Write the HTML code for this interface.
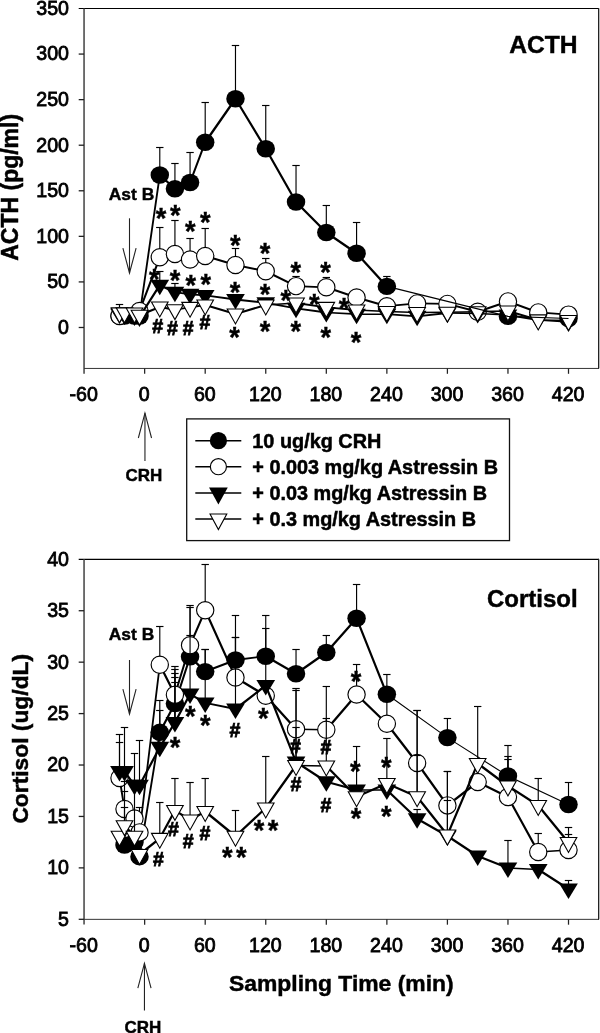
<!DOCTYPE html>
<html lang="en">
<head>
<meta charset="utf-8">
<title>ACTH and Cortisol</title>
<style>
html,body{margin:0;padding:0;background:#fff;}
body{width:600px;height:1033px;overflow:hidden;}
svg{display:block;font-family:"Liberation Sans",Arial,Helvetica,sans-serif;fill:#000;}
</style>
</head>
<body>
<svg width="600" height="1033" viewBox="0 0 600 1033">
<rect x="0" y="0" width="600" height="1033" fill="#fff"/>
<line x1="78.70" y1="8.50" x2="599.10" y2="8.50" stroke="#000" stroke-width="1.15" />
<line x1="84.05" y1="8.50" x2="84.05" y2="373.70" stroke="#484848" stroke-width="1.55" />
<line x1="598.50" y1="8.00" x2="598.50" y2="368.90" stroke="#222" stroke-width="1.0" />
<line x1="599.60" y1="8.50" x2="599.60" y2="368.40" stroke="#999" stroke-width="0.8" />
<line x1="84.15" y1="368.45" x2="599.00" y2="368.45" stroke="#2a2a2a" stroke-width="0.95" />
<text x="69.00" y="14.90" font-size="19.6" stroke="#000" stroke-width="0.8" text-anchor="end" >350</text>
<line x1="78.70" y1="54.07" x2="84.00" y2="54.07" stroke="#202020" stroke-width="1.3" />
<text x="69.00" y="60.47" font-size="19.6" stroke="#000" stroke-width="0.8" text-anchor="end" >300</text>
<line x1="78.70" y1="99.64" x2="84.00" y2="99.64" stroke="#202020" stroke-width="1.3" />
<text x="69.00" y="106.04" font-size="19.6" stroke="#000" stroke-width="0.8" text-anchor="end" >250</text>
<line x1="78.70" y1="145.21" x2="84.00" y2="145.21" stroke="#202020" stroke-width="1.3" />
<text x="69.00" y="151.61" font-size="19.6" stroke="#000" stroke-width="0.8" text-anchor="end" >200</text>
<line x1="78.70" y1="190.78" x2="84.00" y2="190.78" stroke="#202020" stroke-width="1.3" />
<text x="69.00" y="197.18" font-size="19.6" stroke="#000" stroke-width="0.8" text-anchor="end" >150</text>
<line x1="78.70" y1="236.35" x2="84.00" y2="236.35" stroke="#202020" stroke-width="1.3" />
<text x="69.00" y="242.75" font-size="19.6" stroke="#000" stroke-width="0.8" text-anchor="end" >100</text>
<line x1="78.70" y1="281.92" x2="84.00" y2="281.92" stroke="#202020" stroke-width="1.3" />
<text x="69.00" y="288.32" font-size="19.6" stroke="#000" stroke-width="0.8" text-anchor="end" >50</text>
<line x1="78.70" y1="327.49" x2="84.00" y2="327.49" stroke="#202020" stroke-width="1.3" />
<text x="69.00" y="333.89" font-size="19.6" stroke="#000" stroke-width="0.8" text-anchor="end" >0</text>
<text x="83.70" y="400.90" font-size="19.6" stroke="#000" stroke-width="0.8" text-anchor="middle" >-60</text>
<line x1="144.65" y1="368.40" x2="144.65" y2="373.80" stroke="#222" stroke-width="1.25" />
<text x="144.25" y="400.90" font-size="19.6" stroke="#000" stroke-width="0.8" text-anchor="middle" >0</text>
<line x1="205.20" y1="368.40" x2="205.20" y2="373.80" stroke="#222" stroke-width="1.25" />
<text x="204.80" y="400.90" font-size="19.6" stroke="#000" stroke-width="0.8" text-anchor="middle" >60</text>
<line x1="265.75" y1="368.40" x2="265.75" y2="373.80" stroke="#222" stroke-width="1.25" />
<text x="265.35" y="400.90" font-size="19.6" stroke="#000" stroke-width="0.8" text-anchor="middle" >120</text>
<line x1="326.31" y1="368.40" x2="326.31" y2="373.80" stroke="#222" stroke-width="1.25" />
<text x="325.91" y="400.90" font-size="19.6" stroke="#000" stroke-width="0.8" text-anchor="middle" >180</text>
<line x1="386.86" y1="368.40" x2="386.86" y2="373.80" stroke="#222" stroke-width="1.25" />
<text x="386.46" y="400.90" font-size="19.6" stroke="#000" stroke-width="0.8" text-anchor="middle" >240</text>
<line x1="447.41" y1="368.40" x2="447.41" y2="373.80" stroke="#222" stroke-width="1.25" />
<text x="447.01" y="400.90" font-size="19.6" stroke="#000" stroke-width="0.8" text-anchor="middle" >300</text>
<line x1="507.96" y1="368.40" x2="507.96" y2="373.80" stroke="#222" stroke-width="1.25" />
<text x="507.56" y="400.90" font-size="19.6" stroke="#000" stroke-width="0.8" text-anchor="middle" >360</text>
<line x1="568.51" y1="368.40" x2="568.51" y2="373.80" stroke="#222" stroke-width="1.25" />
<text x="568.11" y="400.90" font-size="19.6" stroke="#000" stroke-width="0.8" text-anchor="middle" >420</text>
<line x1="119.50" y1="316.00" x2="124.50" y2="316.00" stroke="#000" stroke-width="1.62" stroke-linecap="round"/>
<line x1="124.50" y1="316.00" x2="134.50" y2="316.00" stroke="#000" stroke-width="1.62" stroke-linecap="round"/>
<line x1="134.50" y1="316.00" x2="139.50" y2="316.00" stroke="#000" stroke-width="1.62" stroke-linecap="round"/>
<line x1="139.50" y1="316.00" x2="159.79" y2="175.00" stroke="#000" stroke-width="1.83" stroke-linecap="round"/>
<line x1="159.79" y1="175.00" x2="174.93" y2="188.75" stroke="#000" stroke-width="2.29" stroke-linecap="round"/>
<line x1="174.93" y1="188.75" x2="190.06" y2="182.50" stroke="#000" stroke-width="2.12" stroke-linecap="round"/>
<line x1="190.06" y1="182.50" x2="205.20" y2="142.25" stroke="#000" stroke-width="2.09" stroke-linecap="round"/>
<line x1="205.20" y1="142.25" x2="235.48" y2="98.75" stroke="#000" stroke-width="2.26" stroke-linecap="round"/>
<line x1="235.48" y1="98.75" x2="265.75" y2="148.75" stroke="#000" stroke-width="2.22" stroke-linecap="round"/>
<line x1="265.75" y1="148.75" x2="296.03" y2="202.00" stroke="#000" stroke-width="2.21" stroke-linecap="round"/>
<line x1="296.03" y1="202.00" x2="326.31" y2="232.50" stroke="#000" stroke-width="2.29" stroke-linecap="round"/>
<line x1="326.31" y1="232.50" x2="356.58" y2="253.25" stroke="#000" stroke-width="2.25" stroke-linecap="round"/>
<line x1="356.58" y1="253.25" x2="386.86" y2="286.40" stroke="#000" stroke-width="2.29" stroke-linecap="round"/>
<line x1="159.79" y1="175.00" x2="159.79" y2="147.50" stroke="#000" stroke-width="1.15" />
<line x1="156.09" y1="147.50" x2="163.49" y2="147.50" stroke="#000" stroke-width="1.15" />
<line x1="174.93" y1="188.75" x2="174.93" y2="163.50" stroke="#000" stroke-width="1.15" />
<line x1="171.23" y1="163.50" x2="178.63" y2="163.50" stroke="#000" stroke-width="1.15" />
<line x1="190.06" y1="182.50" x2="190.06" y2="152.50" stroke="#000" stroke-width="1.15" />
<line x1="186.36" y1="152.50" x2="193.76" y2="152.50" stroke="#000" stroke-width="1.15" />
<line x1="205.20" y1="142.25" x2="205.20" y2="102.50" stroke="#000" stroke-width="1.15" />
<line x1="201.50" y1="102.50" x2="208.90" y2="102.50" stroke="#000" stroke-width="1.15" />
<line x1="235.48" y1="98.75" x2="235.48" y2="45.50" stroke="#000" stroke-width="1.15" />
<line x1="231.78" y1="45.50" x2="239.18" y2="45.50" stroke="#000" stroke-width="1.15" />
<line x1="265.75" y1="148.75" x2="265.75" y2="105.50" stroke="#000" stroke-width="1.15" />
<line x1="262.05" y1="105.50" x2="269.45" y2="105.50" stroke="#000" stroke-width="1.15" />
<line x1="296.03" y1="202.00" x2="296.03" y2="165.50" stroke="#000" stroke-width="1.15" />
<line x1="292.33" y1="165.50" x2="299.73" y2="165.50" stroke="#000" stroke-width="1.15" />
<line x1="326.31" y1="232.50" x2="326.31" y2="205.50" stroke="#000" stroke-width="1.15" />
<line x1="322.61" y1="205.50" x2="330.01" y2="205.50" stroke="#000" stroke-width="1.15" />
<line x1="356.58" y1="253.25" x2="356.58" y2="222.50" stroke="#000" stroke-width="1.15" />
<line x1="352.88" y1="222.50" x2="360.28" y2="222.50" stroke="#000" stroke-width="1.15" />
<line x1="386.86" y1="286.40" x2="386.86" y2="276.50" stroke="#000" stroke-width="1.15" />
<line x1="383.16" y1="276.50" x2="390.56" y2="276.50" stroke="#000" stroke-width="1.15" />
<ellipse cx="119.50" cy="316.00" rx="9.25" ry="8.7" fill="#000"/>
<ellipse cx="124.50" cy="316.00" rx="9.25" ry="8.7" fill="#000"/>
<ellipse cx="134.50" cy="316.00" rx="9.25" ry="8.7" fill="#000"/>
<ellipse cx="139.50" cy="316.00" rx="9.25" ry="8.7" fill="#000"/>
<ellipse cx="159.79" cy="175.00" rx="9.25" ry="8.7" fill="#000"/>
<ellipse cx="174.93" cy="188.75" rx="9.25" ry="8.7" fill="#000"/>
<ellipse cx="190.06" cy="182.50" rx="9.25" ry="8.7" fill="#000"/>
<ellipse cx="205.20" cy="142.25" rx="9.25" ry="8.7" fill="#000"/>
<ellipse cx="235.48" cy="98.75" rx="9.25" ry="8.7" fill="#000"/>
<ellipse cx="265.75" cy="148.75" rx="9.25" ry="8.7" fill="#000"/>
<ellipse cx="296.03" cy="202.00" rx="9.25" ry="8.7" fill="#000"/>
<ellipse cx="326.31" cy="232.50" rx="9.25" ry="8.7" fill="#000"/>
<ellipse cx="356.58" cy="253.25" rx="9.25" ry="8.7" fill="#000"/>
<ellipse cx="386.86" cy="286.40" rx="9.25" ry="8.7" fill="#000"/>
<ellipse cx="507.96" cy="316.40" rx="9.25" ry="8.7" fill="#000"/>
<ellipse cx="568.51" cy="318.50" rx="9.25" ry="8.7" fill="#000"/>
<line x1="119.50" y1="316.00" x2="139.50" y2="311.00" stroke="#000" stroke-width="1.96" stroke-linecap="round"/>
<line x1="139.50" y1="311.00" x2="159.79" y2="257.30" stroke="#000" stroke-width="2.09" stroke-linecap="round"/>
<line x1="159.79" y1="257.30" x2="174.93" y2="254.00" stroke="#000" stroke-width="1.93" stroke-linecap="round"/>
<line x1="174.93" y1="254.00" x2="190.06" y2="259.50" stroke="#000" stroke-width="2.08" stroke-linecap="round"/>
<line x1="190.06" y1="259.50" x2="205.20" y2="256.00" stroke="#000" stroke-width="1.94" stroke-linecap="round"/>
<line x1="205.20" y1="256.00" x2="235.48" y2="265.00" stroke="#000" stroke-width="2.01" stroke-linecap="round"/>
<line x1="235.48" y1="265.00" x2="265.75" y2="271.25" stroke="#000" stroke-width="1.91" stroke-linecap="round"/>
<line x1="265.75" y1="271.25" x2="296.03" y2="286.10" stroke="#000" stroke-width="2.17" stroke-linecap="round"/>
<line x1="296.03" y1="286.10" x2="326.31" y2="287.30" stroke="#000" stroke-width="1.68" stroke-linecap="round"/>
<line x1="326.31" y1="287.30" x2="356.58" y2="297.50" stroke="#000" stroke-width="2.05" stroke-linecap="round"/>
<line x1="356.58" y1="297.50" x2="386.86" y2="306.20" stroke="#000" stroke-width="2.00" stroke-linecap="round"/>
<line x1="386.86" y1="306.20" x2="417.13" y2="303.40" stroke="#000" stroke-width="1.76" stroke-linecap="round"/>
<line x1="417.13" y1="303.40" x2="447.41" y2="303.90" stroke="#000" stroke-width="1.65" stroke-linecap="round"/>
<line x1="447.41" y1="303.90" x2="477.69" y2="311.70" stroke="#000" stroke-width="1.97" stroke-linecap="round"/>
<line x1="477.69" y1="311.70" x2="507.96" y2="301.40" stroke="#000" stroke-width="2.06" stroke-linecap="round"/>
<line x1="507.96" y1="301.40" x2="538.24" y2="312.40" stroke="#000" stroke-width="2.08" stroke-linecap="round"/>
<line x1="538.24" y1="312.40" x2="568.51" y2="314.60" stroke="#000" stroke-width="1.73" stroke-linecap="round"/>
<line x1="159.79" y1="257.30" x2="159.79" y2="227.50" stroke="#000" stroke-width="1.15" />
<line x1="156.09" y1="227.50" x2="163.49" y2="227.50" stroke="#000" stroke-width="1.15" />
<line x1="174.93" y1="254.00" x2="174.93" y2="220.50" stroke="#000" stroke-width="1.15" />
<line x1="171.23" y1="220.50" x2="178.63" y2="220.50" stroke="#000" stroke-width="1.15" />
<line x1="190.06" y1="259.50" x2="190.06" y2="238.50" stroke="#000" stroke-width="1.15" />
<line x1="186.36" y1="238.50" x2="193.76" y2="238.50" stroke="#000" stroke-width="1.15" />
<line x1="205.20" y1="256.00" x2="205.20" y2="228.50" stroke="#000" stroke-width="1.15" />
<line x1="201.50" y1="228.50" x2="208.90" y2="228.50" stroke="#000" stroke-width="1.15" />
<line x1="235.48" y1="265.00" x2="235.48" y2="248.50" stroke="#000" stroke-width="1.15" />
<line x1="231.78" y1="248.50" x2="239.18" y2="248.50" stroke="#000" stroke-width="1.15" />
<line x1="265.75" y1="271.25" x2="265.75" y2="258.50" stroke="#000" stroke-width="1.15" />
<line x1="262.05" y1="258.50" x2="269.45" y2="258.50" stroke="#000" stroke-width="1.15" />
<line x1="296.03" y1="286.10" x2="296.03" y2="276.50" stroke="#000" stroke-width="1.15" />
<line x1="292.33" y1="276.50" x2="299.73" y2="276.50" stroke="#000" stroke-width="1.15" />
<line x1="326.31" y1="287.30" x2="326.31" y2="277.50" stroke="#000" stroke-width="1.15" />
<line x1="322.61" y1="277.50" x2="330.01" y2="277.50" stroke="#000" stroke-width="1.15" />
<circle cx="119.50" cy="316.00" r="8.65" fill="#fff" stroke="#000" stroke-width="1.15"/>
<circle cx="139.50" cy="311.00" r="8.65" fill="#fff" stroke="#000" stroke-width="1.15"/>
<circle cx="159.79" cy="257.30" r="8.65" fill="#fff" stroke="#000" stroke-width="1.15"/>
<circle cx="174.93" cy="254.00" r="8.65" fill="#fff" stroke="#000" stroke-width="1.15"/>
<circle cx="190.06" cy="259.50" r="8.65" fill="#fff" stroke="#000" stroke-width="1.15"/>
<circle cx="205.20" cy="256.00" r="8.65" fill="#fff" stroke="#000" stroke-width="1.15"/>
<circle cx="235.48" cy="265.00" r="8.65" fill="#fff" stroke="#000" stroke-width="1.15"/>
<circle cx="265.75" cy="271.25" r="8.65" fill="#fff" stroke="#000" stroke-width="1.15"/>
<circle cx="296.03" cy="286.10" r="8.65" fill="#fff" stroke="#000" stroke-width="1.15"/>
<circle cx="326.31" cy="287.30" r="8.65" fill="#fff" stroke="#000" stroke-width="1.15"/>
<circle cx="356.58" cy="297.50" r="8.65" fill="#fff" stroke="#000" stroke-width="1.15"/>
<circle cx="386.86" cy="306.20" r="8.65" fill="#fff" stroke="#000" stroke-width="1.15"/>
<circle cx="417.13" cy="303.40" r="8.65" fill="#fff" stroke="#000" stroke-width="1.15"/>
<circle cx="447.41" cy="303.90" r="8.65" fill="#fff" stroke="#000" stroke-width="1.15"/>
<circle cx="477.69" cy="311.70" r="8.65" fill="#fff" stroke="#000" stroke-width="1.15"/>
<circle cx="507.96" cy="301.40" r="8.65" fill="#fff" stroke="#000" stroke-width="1.15"/>
<circle cx="538.24" cy="312.40" r="8.65" fill="#fff" stroke="#000" stroke-width="1.15"/>
<circle cx="568.51" cy="314.60" r="8.65" fill="#fff" stroke="#000" stroke-width="1.15"/>
<line x1="119.50" y1="314.00" x2="124.50" y2="315.00" stroke="#000" stroke-width="1.91" stroke-linecap="round"/>
<line x1="124.50" y1="315.00" x2="134.50" y2="316.00" stroke="#000" stroke-width="1.77" stroke-linecap="round"/>
<line x1="134.50" y1="316.00" x2="139.50" y2="317.00" stroke="#000" stroke-width="1.91" stroke-linecap="round"/>
<line x1="139.50" y1="317.00" x2="159.79" y2="285.20" stroke="#000" stroke-width="2.24" stroke-linecap="round"/>
<line x1="159.79" y1="285.20" x2="174.93" y2="292.20" stroke="#000" stroke-width="2.15" stroke-linecap="round"/>
<line x1="174.93" y1="292.20" x2="190.06" y2="294.30" stroke="#000" stroke-width="1.83" stroke-linecap="round"/>
<line x1="190.06" y1="294.30" x2="205.20" y2="295.40" stroke="#000" stroke-width="1.73" stroke-linecap="round"/>
<line x1="205.20" y1="295.40" x2="235.48" y2="299.50" stroke="#000" stroke-width="1.82" stroke-linecap="round"/>
<line x1="235.48" y1="299.50" x2="265.75" y2="302.80" stroke="#000" stroke-width="1.79" stroke-linecap="round"/>
<line x1="265.75" y1="302.80" x2="296.03" y2="308.30" stroke="#000" stroke-width="1.88" stroke-linecap="round"/>
<line x1="296.03" y1="308.30" x2="326.31" y2="312.50" stroke="#000" stroke-width="1.83" stroke-linecap="round"/>
<line x1="326.31" y1="312.50" x2="356.58" y2="314.20" stroke="#000" stroke-width="1.71" stroke-linecap="round"/>
<line x1="356.58" y1="314.20" x2="386.86" y2="314.20" stroke="#000" stroke-width="1.62" stroke-linecap="round"/>
<line x1="386.86" y1="314.20" x2="417.13" y2="316.30" stroke="#000" stroke-width="1.73" stroke-linecap="round"/>
<line x1="417.13" y1="316.30" x2="447.41" y2="313.00" stroke="#000" stroke-width="1.79" stroke-linecap="round"/>
<line x1="447.41" y1="313.00" x2="477.69" y2="313.50" stroke="#000" stroke-width="1.65" stroke-linecap="round"/>
<line x1="477.69" y1="313.50" x2="507.96" y2="315.00" stroke="#000" stroke-width="1.70" stroke-linecap="round"/>
<line x1="507.96" y1="315.00" x2="538.24" y2="320.00" stroke="#000" stroke-width="1.86" stroke-linecap="round"/>
<line x1="538.24" y1="320.00" x2="568.51" y2="322.00" stroke="#000" stroke-width="1.72" stroke-linecap="round"/>
<line x1="159.79" y1="285.20" x2="159.79" y2="271.50" stroke="#000" stroke-width="1.15" />
<line x1="156.09" y1="271.50" x2="163.49" y2="271.50" stroke="#000" stroke-width="1.15" />
<line x1="174.93" y1="292.20" x2="174.93" y2="283.50" stroke="#000" stroke-width="1.15" />
<line x1="171.23" y1="283.50" x2="178.63" y2="283.50" stroke="#000" stroke-width="1.15" />
<polygon points="110.15,308.50 128.85,308.50 119.50,324.00" fill="#000"/>
<polygon points="115.15,309.50 133.85,309.50 124.50,325.00" fill="#000"/>
<polygon points="125.15,310.50 143.85,310.50 134.50,326.00" fill="#000"/>
<polygon points="130.15,311.50 148.85,311.50 139.50,327.00" fill="#000"/>
<polygon points="150.44,279.70 169.14,279.70 159.79,295.20" fill="#000"/>
<polygon points="165.58,286.70 184.28,286.70 174.93,302.20" fill="#000"/>
<polygon points="180.71,288.80 199.41,288.80 190.06,304.30" fill="#000"/>
<polygon points="195.85,289.90 214.55,289.90 205.20,305.40" fill="#000"/>
<polygon points="226.13,294.00 244.83,294.00 235.48,309.50" fill="#000"/>
<polygon points="256.40,297.30 275.10,297.30 265.75,312.80" fill="#000"/>
<polygon points="286.68,302.80 305.38,302.80 296.03,318.30" fill="#000"/>
<polygon points="316.96,307.00 335.66,307.00 326.31,322.50" fill="#000"/>
<polygon points="347.23,308.70 365.93,308.70 356.58,324.20" fill="#000"/>
<polygon points="377.51,308.70 396.21,308.70 386.86,324.20" fill="#000"/>
<polygon points="407.78,310.80 426.48,310.80 417.13,326.30" fill="#000"/>
<polygon points="438.06,307.50 456.76,307.50 447.41,323.00" fill="#000"/>
<polygon points="468.34,308.00 487.04,308.00 477.69,323.50" fill="#000"/>
<polygon points="498.61,309.50 517.31,309.50 507.96,325.00" fill="#000"/>
<polygon points="528.89,314.50 547.59,314.50 538.24,330.00" fill="#000"/>
<polygon points="559.16,316.50 577.86,316.50 568.51,332.00" fill="#000"/>
<line x1="119.50" y1="312.80" x2="124.50" y2="312.80" stroke="#000" stroke-width="1.62" stroke-linecap="round"/>
<line x1="124.50" y1="312.80" x2="134.50" y2="313.00" stroke="#000" stroke-width="1.65" stroke-linecap="round"/>
<line x1="134.50" y1="313.00" x2="139.50" y2="315.20" stroke="#000" stroke-width="2.14" stroke-linecap="round"/>
<line x1="139.50" y1="315.20" x2="159.79" y2="307.00" stroke="#000" stroke-width="2.11" stroke-linecap="round"/>
<line x1="159.79" y1="307.00" x2="174.93" y2="309.70" stroke="#000" stroke-width="1.88" stroke-linecap="round"/>
<line x1="174.93" y1="309.70" x2="190.06" y2="307.30" stroke="#000" stroke-width="1.85" stroke-linecap="round"/>
<line x1="190.06" y1="307.30" x2="205.20" y2="305.00" stroke="#000" stroke-width="1.84" stroke-linecap="round"/>
<line x1="205.20" y1="305.00" x2="235.48" y2="314.00" stroke="#000" stroke-width="2.01" stroke-linecap="round"/>
<line x1="235.48" y1="314.00" x2="265.75" y2="305.00" stroke="#000" stroke-width="2.01" stroke-linecap="round"/>
<line x1="265.75" y1="305.00" x2="296.03" y2="303.00" stroke="#000" stroke-width="1.72" stroke-linecap="round"/>
<line x1="296.03" y1="303.00" x2="326.31" y2="307.30" stroke="#000" stroke-width="1.83" stroke-linecap="round"/>
<line x1="326.31" y1="307.30" x2="356.58" y2="310.00" stroke="#000" stroke-width="1.76" stroke-linecap="round"/>
<line x1="356.58" y1="310.00" x2="386.86" y2="311.50" stroke="#000" stroke-width="1.70" stroke-linecap="round"/>
<line x1="386.86" y1="311.50" x2="417.13" y2="312.50" stroke="#000" stroke-width="1.67" stroke-linecap="round"/>
<line x1="417.13" y1="312.50" x2="447.41" y2="312.20" stroke="#000" stroke-width="1.64" stroke-linecap="round"/>
<line x1="447.41" y1="312.20" x2="477.69" y2="311.70" stroke="#000" stroke-width="1.65" stroke-linecap="round"/>
<line x1="477.69" y1="311.70" x2="507.96" y2="311.00" stroke="#000" stroke-width="1.66" stroke-linecap="round"/>
<line x1="507.96" y1="311.00" x2="538.24" y2="320.00" stroke="#000" stroke-width="2.01" stroke-linecap="round"/>
<line x1="538.24" y1="320.00" x2="568.51" y2="320.50" stroke="#000" stroke-width="1.65" stroke-linecap="round"/>
<line x1="119.50" y1="312.80" x2="119.50" y2="304.50" stroke="#000" stroke-width="1.15" />
<line x1="115.80" y1="304.50" x2="123.20" y2="304.50" stroke="#000" stroke-width="1.15" />
<polygon points="111.20,307.85 127.80,307.85 119.50,322.70" fill="#fff" stroke="#000" stroke-width="1.1"/>
<polygon points="116.20,307.85 132.80,307.85 124.50,322.70" fill="#fff" stroke="#000" stroke-width="1.1"/>
<polygon points="126.20,308.05 142.80,308.05 134.50,322.90" fill="#fff" stroke="#000" stroke-width="1.1"/>
<polygon points="131.20,310.25 147.80,310.25 139.50,325.10" fill="#fff" stroke="#000" stroke-width="1.1"/>
<polygon points="151.49,302.05 168.09,302.05 159.79,316.90" fill="#fff" stroke="#000" stroke-width="1.1"/>
<polygon points="166.63,304.75 183.23,304.75 174.93,319.60" fill="#fff" stroke="#000" stroke-width="1.1"/>
<polygon points="181.76,302.35 198.36,302.35 190.06,317.20" fill="#fff" stroke="#000" stroke-width="1.1"/>
<polygon points="196.90,300.05 213.50,300.05 205.20,314.90" fill="#fff" stroke="#000" stroke-width="1.1"/>
<polygon points="227.18,309.05 243.78,309.05 235.48,323.90" fill="#fff" stroke="#000" stroke-width="1.1"/>
<polygon points="257.45,300.05 274.05,300.05 265.75,314.90" fill="#fff" stroke="#000" stroke-width="1.1"/>
<polygon points="287.73,298.05 304.33,298.05 296.03,312.90" fill="#fff" stroke="#000" stroke-width="1.1"/>
<polygon points="318.01,302.35 334.61,302.35 326.31,317.20" fill="#fff" stroke="#000" stroke-width="1.1"/>
<polygon points="348.28,305.05 364.88,305.05 356.58,319.90" fill="#fff" stroke="#000" stroke-width="1.1"/>
<polygon points="378.56,306.55 395.16,306.55 386.86,321.40" fill="#fff" stroke="#000" stroke-width="1.1"/>
<polygon points="408.83,307.55 425.43,307.55 417.13,322.40" fill="#fff" stroke="#000" stroke-width="1.1"/>
<polygon points="439.11,307.25 455.71,307.25 447.41,322.10" fill="#fff" stroke="#000" stroke-width="1.1"/>
<polygon points="469.39,306.75 485.99,306.75 477.69,321.60" fill="#fff" stroke="#000" stroke-width="1.1"/>
<polygon points="499.66,306.05 516.26,306.05 507.96,320.90" fill="#fff" stroke="#000" stroke-width="1.1"/>
<polygon points="529.94,315.05 546.54,315.05 538.24,329.90" fill="#fff" stroke="#000" stroke-width="1.1"/>
<polygon points="560.21,315.55 576.81,315.55 568.51,330.40" fill="#fff" stroke="#000" stroke-width="1.1"/>
<polyline points="386.86,286.40 507.96,316.40 568.51,318.50" fill="none" stroke="#000" stroke-width="1.1" stroke-linejoin="round"/>
<text transform="translate(161.00,228.45) scale(0.95,1)" font-size="28.6" font-weight="bold" stroke="#000" stroke-width="0.4" text-anchor="middle">*</text>
<text transform="translate(175.40,224.65) scale(0.95,1)" font-size="28.6" font-weight="bold" stroke="#000" stroke-width="0.4" text-anchor="middle">*</text>
<text transform="translate(190.30,241.35) scale(0.95,1)" font-size="28.6" font-weight="bold" stroke="#000" stroke-width="0.4" text-anchor="middle">*</text>
<text transform="translate(205.40,232.05) scale(0.95,1)" font-size="28.6" font-weight="bold" stroke="#000" stroke-width="0.4" text-anchor="middle">*</text>
<text transform="translate(235.30,255.10) scale(0.95,1)" font-size="28.6" font-weight="bold" stroke="#000" stroke-width="0.4" text-anchor="middle">*</text>
<text transform="translate(265.00,263.05) scale(0.95,1)" font-size="28.6" font-weight="bold" stroke="#000" stroke-width="0.4" text-anchor="middle">*</text>
<text transform="translate(295.80,282.35) scale(0.95,1)" font-size="28.6" font-weight="bold" stroke="#000" stroke-width="0.4" text-anchor="middle">*</text>
<text transform="translate(325.50,281.85) scale(0.95,1)" font-size="28.6" font-weight="bold" stroke="#000" stroke-width="0.4" text-anchor="middle">*</text>
<text transform="translate(154.20,288.55) scale(0.95,1)" font-size="28.6" font-weight="bold" stroke="#000" stroke-width="0.4" text-anchor="middle">*</text>
<text transform="translate(175.00,289.85) scale(0.95,1)" font-size="28.6" font-weight="bold" stroke="#000" stroke-width="0.4" text-anchor="middle">*</text>
<text transform="translate(190.80,295.15) scale(0.95,1)" font-size="28.6" font-weight="bold" stroke="#000" stroke-width="0.4" text-anchor="middle">*</text>
<text transform="translate(205.80,294.35) scale(0.95,1)" font-size="28.6" font-weight="bold" stroke="#000" stroke-width="0.4" text-anchor="middle">*</text>
<text transform="translate(235.00,301.85) scale(0.95,1)" font-size="28.6" font-weight="bold" stroke="#000" stroke-width="0.4" text-anchor="middle">*</text>
<text transform="translate(265.00,303.85) scale(0.95,1)" font-size="28.6" font-weight="bold" stroke="#000" stroke-width="0.4" text-anchor="middle">*</text>
<text transform="translate(285.80,310.15) scale(0.95,1)" font-size="28.6" font-weight="bold" stroke="#000" stroke-width="0.4" text-anchor="middle">*</text>
<text transform="translate(314.20,313.55) scale(0.95,1)" font-size="28.6" font-weight="bold" stroke="#000" stroke-width="0.4" text-anchor="middle">*</text>
<text transform="translate(344.00,318.35) scale(0.95,1)" font-size="28.6" font-weight="bold" stroke="#000" stroke-width="0.4" text-anchor="middle">*</text>
<text x="157.80" y="333.00" font-size="19.6" font-weight="bold" stroke="#000" stroke-width="0.75" text-anchor="middle">#</text>
<text x="172.50" y="335.00" font-size="19.6" font-weight="bold" stroke="#000" stroke-width="0.75" text-anchor="middle">#</text>
<text x="188.30" y="334.70" font-size="19.6" font-weight="bold" stroke="#000" stroke-width="0.75" text-anchor="middle">#</text>
<text x="205.00" y="329.20" font-size="19.6" font-weight="bold" stroke="#000" stroke-width="0.75" text-anchor="middle">#</text>
<text transform="translate(234.50,346.85) scale(0.95,1)" font-size="28.6" font-weight="bold" stroke="#000" stroke-width="0.4" text-anchor="middle">*</text>
<text transform="translate(265.00,341.05) scale(0.95,1)" font-size="28.6" font-weight="bold" stroke="#000" stroke-width="0.4" text-anchor="middle">*</text>
<text transform="translate(295.80,341.35) scale(0.95,1)" font-size="28.6" font-weight="bold" stroke="#000" stroke-width="0.4" text-anchor="middle">*</text>
<text transform="translate(325.80,346.85) scale(0.95,1)" font-size="28.6" font-weight="bold" stroke="#000" stroke-width="0.4" text-anchor="middle">*</text>
<text transform="translate(356.00,351.85) scale(0.95,1)" font-size="28.6" font-weight="bold" stroke="#000" stroke-width="0.4" text-anchor="middle">*</text>
<text x="509.20" y="53.00" font-size="24.6" font-weight="bold" stroke="#000" stroke-width="0.45" text-anchor="start" >ACTH</text>
<text x="108.80" y="199.70" font-size="17.4" font-weight="bold" stroke="#000" stroke-width="0.45" text-anchor="start" >Ast B</text>
<line x1="129.50" y1="273.00" x2="129.50" y2="218.30" stroke="#222" stroke-width="1.1" />
<polyline points="122.90,248.20 129.50,273.00 136.10,248.20" fill="none" stroke="#222" stroke-width="1.1"/>
<text transform="translate(17.8,260.8) rotate(-90)" font-size="23" font-weight="bold" stroke="#000" stroke-width="0.5">ACTH (pg/ml)</text>
<line x1="144.95" y1="413.20" x2="144.95" y2="461.00" stroke="#222" stroke-width="1.1" />
<polyline points="138.35,438.00 144.95,413.20 151.55,438.00" fill="none" stroke="#222" stroke-width="1.1"/>
<text x="143.90" y="481.40" font-size="17.0" font-weight="bold" stroke="#000" stroke-width="0.45" text-anchor="middle" >CRH</text>
<rect x="186.7" y="418.9" width="322.8" height="121.7" fill="#fff" stroke="#111" stroke-width="1.3"/>
<line x1="195.30" y1="440.70" x2="241.30" y2="440.70" stroke="#000" stroke-width="1.6" />
<circle cx="218.40" cy="440.70" r="8.6" fill="#000"/>
<text transform="translate(252.3,447.60) scale(1.0,1)" font-size="19.85" font-weight="bold" stroke="#000" stroke-width="0.5">10 ug/kg CRH</text>
<line x1="195.30" y1="466.70" x2="241.30" y2="466.70" stroke="#000" stroke-width="1.6" />
<circle cx="218.40" cy="466.70" r="8.05" fill="#fff" stroke="#000" stroke-width="1.15"/>
<text transform="translate(252.3,473.60) scale(1.0,1)" font-size="19.85" font-weight="bold" stroke="#000" stroke-width="0.5">+ 0.003 mg/kg Astressin B</text>
<line x1="195.30" y1="493.00" x2="241.30" y2="493.00" stroke="#000" stroke-width="1.6" />
<polygon points="209.03,487.40 227.78,487.40 218.40,504.60" fill="#000"/>
<text transform="translate(252.3,499.90) scale(1.0,1)" font-size="19.85" font-weight="bold" stroke="#000" stroke-width="0.5">+ 0.03 mg/kg Astressin B</text>
<line x1="195.30" y1="519.00" x2="241.30" y2="519.00" stroke="#000" stroke-width="1.6" />
<polygon points="210.03,513.95 226.78,513.95 218.40,529.50" fill="#fff" stroke="#000" stroke-width="1.1"/>
<text transform="translate(252.3,525.90) scale(1.0,1)" font-size="19.85" font-weight="bold" stroke="#000" stroke-width="0.5">+ 0.3 mg/kg Astressin B</text>
<line x1="78.70" y1="559.35" x2="599.10" y2="559.35" stroke="#000" stroke-width="1.3" />
<line x1="84.05" y1="559.35" x2="84.05" y2="924.60" stroke="#484848" stroke-width="1.55" />
<line x1="598.50" y1="558.85" x2="598.50" y2="919.80" stroke="#222" stroke-width="1.0" />
<line x1="599.60" y1="559.35" x2="599.60" y2="919.30" stroke="#999" stroke-width="0.8" />
<line x1="84.15" y1="919.35" x2="599.00" y2="919.35" stroke="#2a2a2a" stroke-width="0.95" />
<text x="69.00" y="565.70" font-size="19.6" stroke="#000" stroke-width="0.8" text-anchor="end" >40</text>
<line x1="78.70" y1="610.73" x2="84.00" y2="610.73" stroke="#202020" stroke-width="1.3" />
<text x="69.00" y="617.13" font-size="19.6" stroke="#000" stroke-width="0.8" text-anchor="end" >35</text>
<line x1="78.70" y1="662.16" x2="84.00" y2="662.16" stroke="#202020" stroke-width="1.3" />
<text x="69.00" y="668.56" font-size="19.6" stroke="#000" stroke-width="0.8" text-anchor="end" >30</text>
<line x1="78.70" y1="713.59" x2="84.00" y2="713.59" stroke="#202020" stroke-width="1.3" />
<text x="69.00" y="719.99" font-size="19.6" stroke="#000" stroke-width="0.8" text-anchor="end" >25</text>
<line x1="78.70" y1="765.02" x2="84.00" y2="765.02" stroke="#202020" stroke-width="1.3" />
<text x="69.00" y="771.42" font-size="19.6" stroke="#000" stroke-width="0.8" text-anchor="end" >20</text>
<line x1="78.70" y1="816.45" x2="84.00" y2="816.45" stroke="#202020" stroke-width="1.3" />
<text x="69.00" y="822.85" font-size="19.6" stroke="#000" stroke-width="0.8" text-anchor="end" >15</text>
<line x1="78.70" y1="867.88" x2="84.00" y2="867.88" stroke="#202020" stroke-width="1.3" />
<text x="69.00" y="874.28" font-size="19.6" stroke="#000" stroke-width="0.8" text-anchor="end" >10</text>
<line x1="78.70" y1="919.31" x2="84.00" y2="919.31" stroke="#202020" stroke-width="1.3" />
<text x="69.00" y="925.71" font-size="19.6" stroke="#000" stroke-width="0.8" text-anchor="end" >5</text>
<text x="83.70" y="952.00" font-size="19.6" stroke="#000" stroke-width="0.8" text-anchor="middle" >-60</text>
<line x1="144.65" y1="919.30" x2="144.65" y2="924.70" stroke="#222" stroke-width="1.25" />
<text x="144.25" y="952.00" font-size="19.6" stroke="#000" stroke-width="0.8" text-anchor="middle" >0</text>
<line x1="205.20" y1="919.30" x2="205.20" y2="924.70" stroke="#222" stroke-width="1.25" />
<text x="204.80" y="952.00" font-size="19.6" stroke="#000" stroke-width="0.8" text-anchor="middle" >60</text>
<line x1="265.75" y1="919.30" x2="265.75" y2="924.70" stroke="#222" stroke-width="1.25" />
<text x="265.35" y="952.00" font-size="19.6" stroke="#000" stroke-width="0.8" text-anchor="middle" >120</text>
<line x1="326.31" y1="919.30" x2="326.31" y2="924.70" stroke="#222" stroke-width="1.25" />
<text x="325.91" y="952.00" font-size="19.6" stroke="#000" stroke-width="0.8" text-anchor="middle" >180</text>
<line x1="386.86" y1="919.30" x2="386.86" y2="924.70" stroke="#222" stroke-width="1.25" />
<text x="386.46" y="952.00" font-size="19.6" stroke="#000" stroke-width="0.8" text-anchor="middle" >240</text>
<line x1="447.41" y1="919.30" x2="447.41" y2="924.70" stroke="#222" stroke-width="1.25" />
<text x="447.01" y="952.00" font-size="19.6" stroke="#000" stroke-width="0.8" text-anchor="middle" >300</text>
<line x1="507.96" y1="919.30" x2="507.96" y2="924.70" stroke="#222" stroke-width="1.25" />
<text x="507.56" y="952.00" font-size="19.6" stroke="#000" stroke-width="0.8" text-anchor="middle" >360</text>
<line x1="568.51" y1="919.30" x2="568.51" y2="924.70" stroke="#222" stroke-width="1.25" />
<text x="568.11" y="952.00" font-size="19.6" stroke="#000" stroke-width="0.8" text-anchor="middle" >420</text>
<line x1="124.50" y1="845.00" x2="134.50" y2="842.00" stroke="#000" stroke-width="2.02" stroke-linecap="round"/>
<line x1="134.50" y1="842.00" x2="139.50" y2="856.70" stroke="#000" stroke-width="2.06" stroke-linecap="round"/>
<line x1="139.50" y1="856.70" x2="159.79" y2="732.30" stroke="#000" stroke-width="1.86" stroke-linecap="round"/>
<line x1="159.79" y1="732.30" x2="174.93" y2="703.60" stroke="#000" stroke-width="2.19" stroke-linecap="round"/>
<line x1="174.93" y1="703.60" x2="190.06" y2="656.80" stroke="#000" stroke-width="2.04" stroke-linecap="round"/>
<line x1="190.06" y1="656.80" x2="205.20" y2="671.60" stroke="#000" stroke-width="2.29" stroke-linecap="round"/>
<line x1="205.20" y1="671.60" x2="235.48" y2="660.00" stroke="#000" stroke-width="2.09" stroke-linecap="round"/>
<line x1="235.48" y1="660.00" x2="265.75" y2="656.25" stroke="#000" stroke-width="1.81" stroke-linecap="round"/>
<line x1="265.75" y1="656.25" x2="296.03" y2="673.75" stroke="#000" stroke-width="2.21" stroke-linecap="round"/>
<line x1="296.03" y1="673.75" x2="326.31" y2="652.50" stroke="#000" stroke-width="2.26" stroke-linecap="round"/>
<line x1="326.31" y1="652.50" x2="356.58" y2="618.25" stroke="#000" stroke-width="2.29" stroke-linecap="round"/>
<line x1="356.58" y1="618.25" x2="386.86" y2="694.25" stroke="#000" stroke-width="2.10" stroke-linecap="round"/>
<line x1="159.79" y1="732.30" x2="159.79" y2="700.50" stroke="#000" stroke-width="1.15" />
<line x1="156.09" y1="700.50" x2="163.49" y2="700.50" stroke="#000" stroke-width="1.15" />
<line x1="174.93" y1="703.60" x2="174.93" y2="673.50" stroke="#000" stroke-width="1.15" />
<line x1="171.23" y1="673.50" x2="178.63" y2="673.50" stroke="#000" stroke-width="1.15" />
<line x1="190.06" y1="656.80" x2="190.06" y2="635.50" stroke="#000" stroke-width="1.15" />
<line x1="186.36" y1="635.50" x2="193.76" y2="635.50" stroke="#000" stroke-width="1.15" />
<line x1="205.20" y1="671.60" x2="205.20" y2="649.50" stroke="#000" stroke-width="1.15" />
<line x1="201.50" y1="649.50" x2="208.90" y2="649.50" stroke="#000" stroke-width="1.15" />
<line x1="235.48" y1="660.00" x2="235.48" y2="615.50" stroke="#000" stroke-width="1.15" />
<line x1="231.78" y1="615.50" x2="239.18" y2="615.50" stroke="#000" stroke-width="1.15" />
<line x1="265.75" y1="656.25" x2="265.75" y2="615.50" stroke="#000" stroke-width="1.15" />
<line x1="262.05" y1="615.50" x2="269.45" y2="615.50" stroke="#000" stroke-width="1.15" />
<line x1="296.03" y1="673.75" x2="296.03" y2="649.50" stroke="#000" stroke-width="1.15" />
<line x1="292.33" y1="649.50" x2="299.73" y2="649.50" stroke="#000" stroke-width="1.15" />
<line x1="326.31" y1="652.50" x2="326.31" y2="635.50" stroke="#000" stroke-width="1.15" />
<line x1="322.61" y1="635.50" x2="330.01" y2="635.50" stroke="#000" stroke-width="1.15" />
<line x1="356.58" y1="618.25" x2="356.58" y2="584.50" stroke="#000" stroke-width="1.15" />
<line x1="352.88" y1="584.50" x2="360.28" y2="584.50" stroke="#000" stroke-width="1.15" />
<line x1="386.86" y1="694.25" x2="386.86" y2="674.50" stroke="#000" stroke-width="1.15" />
<line x1="383.16" y1="674.50" x2="390.56" y2="674.50" stroke="#000" stroke-width="1.15" />
<line x1="447.41" y1="737.60" x2="447.41" y2="718.50" stroke="#000" stroke-width="1.15" />
<line x1="443.71" y1="718.50" x2="451.11" y2="718.50" stroke="#000" stroke-width="1.15" />
<line x1="507.96" y1="776.00" x2="507.96" y2="745.50" stroke="#000" stroke-width="1.15" />
<line x1="504.26" y1="745.50" x2="511.66" y2="745.50" stroke="#000" stroke-width="1.15" />
<line x1="568.51" y1="804.50" x2="568.51" y2="782.50" stroke="#000" stroke-width="1.15" />
<line x1="564.81" y1="782.50" x2="572.21" y2="782.50" stroke="#000" stroke-width="1.15" />
<ellipse cx="124.50" cy="845.00" rx="9.25" ry="8.7" fill="#000"/>
<ellipse cx="134.50" cy="842.00" rx="9.25" ry="8.7" fill="#000"/>
<ellipse cx="139.50" cy="856.70" rx="9.25" ry="8.7" fill="#000"/>
<ellipse cx="159.79" cy="732.30" rx="9.25" ry="8.7" fill="#000"/>
<ellipse cx="174.93" cy="703.60" rx="9.25" ry="8.7" fill="#000"/>
<ellipse cx="190.06" cy="656.80" rx="9.25" ry="8.7" fill="#000"/>
<ellipse cx="205.20" cy="671.60" rx="9.25" ry="8.7" fill="#000"/>
<ellipse cx="235.48" cy="660.00" rx="9.25" ry="8.7" fill="#000"/>
<ellipse cx="265.75" cy="656.25" rx="9.25" ry="8.7" fill="#000"/>
<ellipse cx="296.03" cy="673.75" rx="9.25" ry="8.7" fill="#000"/>
<ellipse cx="326.31" cy="652.50" rx="9.25" ry="8.7" fill="#000"/>
<ellipse cx="356.58" cy="618.25" rx="9.25" ry="8.7" fill="#000"/>
<ellipse cx="386.86" cy="694.25" rx="9.25" ry="8.7" fill="#000"/>
<ellipse cx="447.41" cy="737.60" rx="9.25" ry="8.7" fill="#000"/>
<ellipse cx="507.96" cy="776.00" rx="9.25" ry="8.7" fill="#000"/>
<ellipse cx="568.51" cy="804.50" rx="9.25" ry="8.7" fill="#000"/>
<polyline points="386.86,694.25 447.41,737.60 507.96,776.00 568.51,804.50" fill="none" stroke="#000" stroke-width="1.1" stroke-linejoin="round"/>
<line x1="119.50" y1="778.00" x2="124.50" y2="809.00" stroke="#000" stroke-width="1.86" stroke-linecap="round"/>
<line x1="124.50" y1="809.00" x2="134.50" y2="818.50" stroke="#000" stroke-width="2.29" stroke-linecap="round"/>
<line x1="134.50" y1="818.50" x2="139.50" y2="832.40" stroke="#000" stroke-width="2.07" stroke-linecap="round"/>
<line x1="139.50" y1="832.40" x2="159.79" y2="664.80" stroke="#000" stroke-width="1.80" stroke-linecap="round"/>
<line x1="159.79" y1="664.80" x2="174.93" y2="694.70" stroke="#000" stroke-width="2.18" stroke-linecap="round"/>
<line x1="174.93" y1="694.70" x2="190.06" y2="645.20" stroke="#000" stroke-width="2.02" stroke-linecap="round"/>
<line x1="190.06" y1="645.20" x2="205.20" y2="610.30" stroke="#000" stroke-width="2.13" stroke-linecap="round"/>
<line x1="205.20" y1="610.30" x2="235.48" y2="677.50" stroke="#000" stroke-width="2.14" stroke-linecap="round"/>
<line x1="235.48" y1="677.50" x2="265.75" y2="695.75" stroke="#000" stroke-width="2.22" stroke-linecap="round"/>
<line x1="265.75" y1="695.75" x2="296.03" y2="729.30" stroke="#000" stroke-width="2.29" stroke-linecap="round"/>
<line x1="296.03" y1="729.30" x2="326.31" y2="729.80" stroke="#000" stroke-width="1.65" stroke-linecap="round"/>
<line x1="326.31" y1="729.80" x2="356.58" y2="694.50" stroke="#000" stroke-width="2.28" stroke-linecap="round"/>
<line x1="356.58" y1="694.50" x2="386.86" y2="723.75" stroke="#000" stroke-width="2.29" stroke-linecap="round"/>
<line x1="386.86" y1="723.75" x2="417.13" y2="763.00" stroke="#000" stroke-width="2.27" stroke-linecap="round"/>
<line x1="417.13" y1="763.00" x2="447.41" y2="805.40" stroke="#000" stroke-width="2.26" stroke-linecap="round"/>
<line x1="447.41" y1="805.40" x2="477.69" y2="782.00" stroke="#000" stroke-width="2.27" stroke-linecap="round"/>
<line x1="477.69" y1="782.00" x2="507.96" y2="797.00" stroke="#000" stroke-width="2.17" stroke-linecap="round"/>
<line x1="507.96" y1="797.00" x2="538.24" y2="852.00" stroke="#000" stroke-width="2.20" stroke-linecap="round"/>
<line x1="538.24" y1="852.00" x2="568.51" y2="850.00" stroke="#000" stroke-width="1.72" stroke-linecap="round"/>
<line x1="119.50" y1="778.00" x2="119.50" y2="742.50" stroke="#000" stroke-width="1.15" />
<line x1="115.80" y1="742.50" x2="123.20" y2="742.50" stroke="#000" stroke-width="1.15" />
<line x1="124.50" y1="809.00" x2="124.50" y2="791.50" stroke="#000" stroke-width="1.15" />
<line x1="120.80" y1="791.50" x2="128.20" y2="791.50" stroke="#000" stroke-width="1.15" />
<line x1="139.50" y1="832.40" x2="139.50" y2="807.50" stroke="#000" stroke-width="1.15" />
<line x1="135.80" y1="807.50" x2="143.20" y2="807.50" stroke="#000" stroke-width="1.15" />
<line x1="159.79" y1="664.80" x2="159.79" y2="626.50" stroke="#000" stroke-width="1.15" />
<line x1="156.09" y1="626.50" x2="163.49" y2="626.50" stroke="#000" stroke-width="1.15" />
<line x1="174.93" y1="694.70" x2="174.93" y2="666.50" stroke="#000" stroke-width="1.15" />
<line x1="171.23" y1="666.50" x2="178.63" y2="666.50" stroke="#000" stroke-width="1.15" />
<line x1="190.06" y1="645.20" x2="190.06" y2="605.50" stroke="#000" stroke-width="1.15" />
<line x1="186.36" y1="605.50" x2="193.76" y2="605.50" stroke="#000" stroke-width="1.15" />
<line x1="205.20" y1="610.30" x2="205.20" y2="564.50" stroke="#000" stroke-width="1.15" />
<line x1="201.50" y1="564.50" x2="208.90" y2="564.50" stroke="#000" stroke-width="1.15" />
<line x1="235.48" y1="677.50" x2="235.48" y2="637.50" stroke="#000" stroke-width="1.15" />
<line x1="231.78" y1="637.50" x2="239.18" y2="637.50" stroke="#000" stroke-width="1.15" />
<line x1="265.75" y1="695.75" x2="265.75" y2="628.50" stroke="#000" stroke-width="1.15" />
<line x1="262.05" y1="628.50" x2="269.45" y2="628.50" stroke="#000" stroke-width="1.15" />
<line x1="296.03" y1="729.30" x2="296.03" y2="688.50" stroke="#000" stroke-width="1.15" />
<line x1="292.33" y1="688.50" x2="299.73" y2="688.50" stroke="#000" stroke-width="1.15" />
<line x1="326.31" y1="729.80" x2="326.31" y2="686.50" stroke="#000" stroke-width="1.15" />
<line x1="322.61" y1="686.50" x2="330.01" y2="686.50" stroke="#000" stroke-width="1.15" />
<line x1="356.58" y1="694.50" x2="356.58" y2="664.50" stroke="#000" stroke-width="1.15" />
<line x1="352.88" y1="664.50" x2="360.28" y2="664.50" stroke="#000" stroke-width="1.15" />
<line x1="386.86" y1="723.75" x2="386.86" y2="700.50" stroke="#000" stroke-width="1.15" />
<line x1="383.16" y1="700.50" x2="390.56" y2="700.50" stroke="#000" stroke-width="1.15" />
<line x1="417.13" y1="763.00" x2="417.13" y2="710.50" stroke="#000" stroke-width="1.15" />
<line x1="413.43" y1="710.50" x2="420.83" y2="710.50" stroke="#000" stroke-width="1.15" />
<line x1="447.41" y1="805.40" x2="447.41" y2="771.50" stroke="#000" stroke-width="1.15" />
<line x1="443.71" y1="771.50" x2="451.11" y2="771.50" stroke="#000" stroke-width="1.15" />
<line x1="507.96" y1="797.00" x2="507.96" y2="756.50" stroke="#000" stroke-width="1.15" />
<line x1="504.26" y1="756.50" x2="511.66" y2="756.50" stroke="#000" stroke-width="1.15" />
<line x1="538.24" y1="852.00" x2="538.24" y2="833.50" stroke="#000" stroke-width="1.15" />
<line x1="534.54" y1="833.50" x2="541.94" y2="833.50" stroke="#000" stroke-width="1.15" />
<line x1="568.51" y1="850.00" x2="568.51" y2="827.50" stroke="#000" stroke-width="1.15" />
<line x1="564.81" y1="827.50" x2="572.21" y2="827.50" stroke="#000" stroke-width="1.15" />
<circle cx="119.50" cy="778.00" r="8.65" fill="#fff" stroke="#000" stroke-width="1.15"/>
<circle cx="124.50" cy="809.00" r="8.65" fill="#fff" stroke="#000" stroke-width="1.15"/>
<circle cx="134.50" cy="818.50" r="8.65" fill="#fff" stroke="#000" stroke-width="1.15"/>
<circle cx="139.50" cy="832.40" r="8.65" fill="#fff" stroke="#000" stroke-width="1.15"/>
<circle cx="159.79" cy="664.80" r="8.65" fill="#fff" stroke="#000" stroke-width="1.15"/>
<circle cx="174.93" cy="694.70" r="8.65" fill="#fff" stroke="#000" stroke-width="1.15"/>
<circle cx="190.06" cy="645.20" r="8.65" fill="#fff" stroke="#000" stroke-width="1.15"/>
<circle cx="205.20" cy="610.30" r="8.65" fill="#fff" stroke="#000" stroke-width="1.15"/>
<circle cx="235.48" cy="677.50" r="8.65" fill="#fff" stroke="#000" stroke-width="1.15"/>
<circle cx="265.75" cy="695.75" r="8.65" fill="#fff" stroke="#000" stroke-width="1.15"/>
<circle cx="296.03" cy="729.30" r="8.65" fill="#fff" stroke="#000" stroke-width="1.15"/>
<circle cx="326.31" cy="729.80" r="8.65" fill="#fff" stroke="#000" stroke-width="1.15"/>
<circle cx="356.58" cy="694.50" r="8.65" fill="#fff" stroke="#000" stroke-width="1.15"/>
<circle cx="386.86" cy="723.75" r="8.65" fill="#fff" stroke="#000" stroke-width="1.15"/>
<circle cx="417.13" cy="763.00" r="8.65" fill="#fff" stroke="#000" stroke-width="1.15"/>
<circle cx="447.41" cy="805.40" r="8.65" fill="#fff" stroke="#000" stroke-width="1.15"/>
<circle cx="477.69" cy="782.00" r="8.65" fill="#fff" stroke="#000" stroke-width="1.15"/>
<circle cx="507.96" cy="797.00" r="8.65" fill="#fff" stroke="#000" stroke-width="1.15"/>
<circle cx="538.24" cy="852.00" r="8.65" fill="#fff" stroke="#000" stroke-width="1.15"/>
<circle cx="568.51" cy="850.00" r="8.65" fill="#fff" stroke="#000" stroke-width="1.15"/>
<line x1="119.50" y1="771.40" x2="124.50" y2="771.40" stroke="#000" stroke-width="1.62" stroke-linecap="round"/>
<line x1="124.50" y1="771.40" x2="134.50" y2="785.30" stroke="#000" stroke-width="2.26" stroke-linecap="round"/>
<line x1="134.50" y1="785.30" x2="139.50" y2="785.30" stroke="#000" stroke-width="1.62" stroke-linecap="round"/>
<line x1="139.50" y1="785.30" x2="159.79" y2="747.30" stroke="#000" stroke-width="2.19" stroke-linecap="round"/>
<line x1="159.79" y1="747.30" x2="174.93" y2="722.50" stroke="#000" stroke-width="2.23" stroke-linecap="round"/>
<line x1="174.93" y1="722.50" x2="190.06" y2="694.10" stroke="#000" stroke-width="2.19" stroke-linecap="round"/>
<line x1="190.06" y1="694.10" x2="205.20" y2="702.90" stroke="#000" stroke-width="2.21" stroke-linecap="round"/>
<line x1="205.20" y1="702.90" x2="235.48" y2="709.00" stroke="#000" stroke-width="1.91" stroke-linecap="round"/>
<line x1="235.48" y1="709.00" x2="265.75" y2="685.50" stroke="#000" stroke-width="2.27" stroke-linecap="round"/>
<line x1="265.75" y1="685.50" x2="296.03" y2="762.00" stroke="#000" stroke-width="2.10" stroke-linecap="round"/>
<line x1="296.03" y1="762.00" x2="326.31" y2="781.75" stroke="#000" stroke-width="2.24" stroke-linecap="round"/>
<line x1="326.31" y1="781.75" x2="356.58" y2="790.00" stroke="#000" stroke-width="1.99" stroke-linecap="round"/>
<line x1="356.58" y1="790.00" x2="386.86" y2="790.00" stroke="#000" stroke-width="1.62" stroke-linecap="round"/>
<line x1="386.86" y1="790.00" x2="417.13" y2="818.75" stroke="#000" stroke-width="2.29" stroke-linecap="round"/>
<line x1="417.13" y1="818.75" x2="447.41" y2="836.00" stroke="#000" stroke-width="2.21" stroke-linecap="round"/>
<line x1="447.41" y1="836.00" x2="477.69" y2="856.00" stroke="#000" stroke-width="2.24" stroke-linecap="round"/>
<line x1="477.69" y1="856.00" x2="507.96" y2="868.00" stroke="#000" stroke-width="2.10" stroke-linecap="round"/>
<line x1="507.96" y1="868.00" x2="538.24" y2="869.50" stroke="#000" stroke-width="1.70" stroke-linecap="round"/>
<line x1="538.24" y1="869.50" x2="568.51" y2="889.00" stroke="#000" stroke-width="2.24" stroke-linecap="round"/>
<line x1="119.50" y1="771.40" x2="119.50" y2="734.50" stroke="#000" stroke-width="1.15" />
<line x1="115.80" y1="734.50" x2="123.20" y2="734.50" stroke="#000" stroke-width="1.15" />
<line x1="124.50" y1="771.40" x2="124.50" y2="727.50" stroke="#000" stroke-width="1.15" />
<line x1="120.80" y1="727.50" x2="128.20" y2="727.50" stroke="#000" stroke-width="1.15" />
<line x1="134.50" y1="785.30" x2="134.50" y2="753.50" stroke="#000" stroke-width="1.15" />
<line x1="130.80" y1="753.50" x2="138.20" y2="753.50" stroke="#000" stroke-width="1.15" />
<line x1="139.50" y1="785.30" x2="139.50" y2="740.50" stroke="#000" stroke-width="1.15" />
<line x1="135.80" y1="740.50" x2="143.20" y2="740.50" stroke="#000" stroke-width="1.15" />
<line x1="159.79" y1="747.30" x2="159.79" y2="710.50" stroke="#000" stroke-width="1.15" />
<line x1="156.09" y1="710.50" x2="163.49" y2="710.50" stroke="#000" stroke-width="1.15" />
<line x1="174.93" y1="722.50" x2="174.93" y2="669.50" stroke="#000" stroke-width="1.15" />
<line x1="171.23" y1="669.50" x2="178.63" y2="669.50" stroke="#000" stroke-width="1.15" />
<line x1="174.93" y1="722.50" x2="174.93" y2="677.50" stroke="#000" stroke-width="1.15" />
<line x1="171.23" y1="677.50" x2="178.63" y2="677.50" stroke="#000" stroke-width="1.15" />
<line x1="174.93" y1="722.50" x2="174.93" y2="682.50" stroke="#000" stroke-width="1.15" />
<line x1="171.23" y1="682.50" x2="178.63" y2="682.50" stroke="#000" stroke-width="1.15" />
<line x1="190.06" y1="694.10" x2="190.06" y2="607.50" stroke="#000" stroke-width="1.15" />
<line x1="186.36" y1="607.50" x2="193.76" y2="607.50" stroke="#000" stroke-width="1.15" />
<line x1="205.20" y1="702.90" x2="205.20" y2="649.50" stroke="#000" stroke-width="1.15" />
<line x1="201.50" y1="649.50" x2="208.90" y2="649.50" stroke="#000" stroke-width="1.15" />
<line x1="235.48" y1="709.00" x2="235.48" y2="637.50" stroke="#000" stroke-width="1.15" />
<line x1="231.78" y1="637.50" x2="239.18" y2="637.50" stroke="#000" stroke-width="1.15" />
<line x1="296.03" y1="762.00" x2="296.03" y2="690.50" stroke="#000" stroke-width="1.15" />
<line x1="292.33" y1="690.50" x2="299.73" y2="690.50" stroke="#000" stroke-width="1.15" />
<line x1="417.13" y1="818.75" x2="417.13" y2="809.50" stroke="#000" stroke-width="1.15" />
<line x1="413.43" y1="809.50" x2="420.83" y2="809.50" stroke="#000" stroke-width="1.15" />
<line x1="507.96" y1="868.00" x2="507.96" y2="840.50" stroke="#000" stroke-width="1.15" />
<line x1="504.26" y1="840.50" x2="511.66" y2="840.50" stroke="#000" stroke-width="1.15" />
<line x1="568.51" y1="889.00" x2="568.51" y2="880.50" stroke="#000" stroke-width="1.15" />
<line x1="564.81" y1="880.50" x2="572.21" y2="880.50" stroke="#000" stroke-width="1.15" />
<polygon points="110.15,765.90 128.85,765.90 119.50,781.40" fill="#000"/>
<polygon points="115.15,765.90 133.85,765.90 124.50,781.40" fill="#000"/>
<polygon points="125.15,779.80 143.85,779.80 134.50,795.30" fill="#000"/>
<polygon points="130.15,779.80 148.85,779.80 139.50,795.30" fill="#000"/>
<polygon points="150.44,741.80 169.14,741.80 159.79,757.30" fill="#000"/>
<polygon points="165.58,717.00 184.28,717.00 174.93,732.50" fill="#000"/>
<polygon points="180.71,688.60 199.41,688.60 190.06,704.10" fill="#000"/>
<polygon points="195.85,697.40 214.55,697.40 205.20,712.90" fill="#000"/>
<polygon points="226.13,703.50 244.83,703.50 235.48,719.00" fill="#000"/>
<polygon points="256.40,680.00 275.10,680.00 265.75,695.50" fill="#000"/>
<polygon points="286.68,756.50 305.38,756.50 296.03,772.00" fill="#000"/>
<polygon points="316.96,776.25 335.66,776.25 326.31,791.75" fill="#000"/>
<polygon points="347.23,784.50 365.93,784.50 356.58,800.00" fill="#000"/>
<polygon points="377.51,784.50 396.21,784.50 386.86,800.00" fill="#000"/>
<polygon points="407.78,813.25 426.48,813.25 417.13,828.75" fill="#000"/>
<polygon points="438.06,830.50 456.76,830.50 447.41,846.00" fill="#000"/>
<polygon points="468.34,850.50 487.04,850.50 477.69,866.00" fill="#000"/>
<polygon points="498.61,862.50 517.31,862.50 507.96,878.00" fill="#000"/>
<polygon points="528.89,864.00 547.59,864.00 538.24,879.50" fill="#000"/>
<polygon points="559.16,883.50 577.86,883.50 568.51,899.00" fill="#000"/>
<line x1="119.50" y1="836.20" x2="124.50" y2="825.70" stroke="#000" stroke-width="2.16" stroke-linecap="round"/>
<line x1="124.50" y1="825.70" x2="134.50" y2="836.20" stroke="#000" stroke-width="2.29" stroke-linecap="round"/>
<line x1="134.50" y1="836.20" x2="139.50" y2="854.50" stroke="#000" stroke-width="1.99" stroke-linecap="round"/>
<line x1="139.50" y1="854.50" x2="159.79" y2="838.30" stroke="#000" stroke-width="2.28" stroke-linecap="round"/>
<line x1="159.79" y1="838.30" x2="174.93" y2="810.40" stroke="#000" stroke-width="2.20" stroke-linecap="round"/>
<line x1="174.93" y1="810.40" x2="190.06" y2="820.00" stroke="#000" stroke-width="2.24" stroke-linecap="round"/>
<line x1="190.06" y1="820.00" x2="205.20" y2="811.50" stroke="#000" stroke-width="2.21" stroke-linecap="round"/>
<line x1="205.20" y1="811.50" x2="235.48" y2="836.25" stroke="#000" stroke-width="2.28" stroke-linecap="round"/>
<line x1="235.48" y1="836.25" x2="265.75" y2="808.00" stroke="#000" stroke-width="2.29" stroke-linecap="round"/>
<line x1="265.75" y1="808.00" x2="296.03" y2="765.50" stroke="#000" stroke-width="2.26" stroke-linecap="round"/>
<line x1="296.03" y1="765.50" x2="326.31" y2="766.00" stroke="#000" stroke-width="1.65" stroke-linecap="round"/>
<line x1="326.31" y1="766.00" x2="356.58" y2="796.75" stroke="#000" stroke-width="2.29" stroke-linecap="round"/>
<line x1="356.58" y1="796.75" x2="386.86" y2="783.50" stroke="#000" stroke-width="2.13" stroke-linecap="round"/>
<line x1="386.86" y1="783.50" x2="417.13" y2="796.75" stroke="#000" stroke-width="2.13" stroke-linecap="round"/>
<line x1="417.13" y1="796.75" x2="447.41" y2="835.00" stroke="#000" stroke-width="2.28" stroke-linecap="round"/>
<line x1="447.41" y1="835.00" x2="477.69" y2="763.50" stroke="#000" stroke-width="2.12" stroke-linecap="round"/>
<line x1="477.69" y1="763.50" x2="507.96" y2="786.00" stroke="#000" stroke-width="2.27" stroke-linecap="round"/>
<line x1="507.96" y1="786.00" x2="538.24" y2="805.50" stroke="#000" stroke-width="2.24" stroke-linecap="round"/>
<line x1="538.24" y1="805.50" x2="568.51" y2="842.50" stroke="#000" stroke-width="2.28" stroke-linecap="round"/>
<line x1="124.50" y1="825.70" x2="124.50" y2="781.50" stroke="#000" stroke-width="1.15" />
<line x1="120.80" y1="781.50" x2="128.20" y2="781.50" stroke="#000" stroke-width="1.15" />
<line x1="124.50" y1="825.70" x2="124.50" y2="807.50" stroke="#000" stroke-width="1.15" />
<line x1="120.80" y1="807.50" x2="128.20" y2="807.50" stroke="#000" stroke-width="1.15" />
<line x1="134.50" y1="836.20" x2="134.50" y2="784.50" stroke="#000" stroke-width="1.15" />
<line x1="130.80" y1="784.50" x2="138.20" y2="784.50" stroke="#000" stroke-width="1.15" />
<line x1="159.79" y1="838.30" x2="159.79" y2="802.50" stroke="#000" stroke-width="1.15" />
<line x1="156.09" y1="802.50" x2="163.49" y2="802.50" stroke="#000" stroke-width="1.15" />
<line x1="174.93" y1="810.40" x2="174.93" y2="778.50" stroke="#000" stroke-width="1.15" />
<line x1="171.23" y1="778.50" x2="178.63" y2="778.50" stroke="#000" stroke-width="1.15" />
<line x1="190.06" y1="820.00" x2="190.06" y2="782.50" stroke="#000" stroke-width="1.15" />
<line x1="186.36" y1="782.50" x2="193.76" y2="782.50" stroke="#000" stroke-width="1.15" />
<line x1="205.20" y1="811.50" x2="205.20" y2="778.50" stroke="#000" stroke-width="1.15" />
<line x1="201.50" y1="778.50" x2="208.90" y2="778.50" stroke="#000" stroke-width="1.15" />
<line x1="235.48" y1="836.25" x2="235.48" y2="810.50" stroke="#000" stroke-width="1.15" />
<line x1="231.78" y1="810.50" x2="239.18" y2="810.50" stroke="#000" stroke-width="1.15" />
<line x1="265.75" y1="808.00" x2="265.75" y2="756.50" stroke="#000" stroke-width="1.15" />
<line x1="262.05" y1="756.50" x2="269.45" y2="756.50" stroke="#000" stroke-width="1.15" />
<line x1="296.03" y1="765.50" x2="296.03" y2="727.50" stroke="#000" stroke-width="1.15" />
<line x1="292.33" y1="727.50" x2="299.73" y2="727.50" stroke="#000" stroke-width="1.15" />
<line x1="326.31" y1="766.00" x2="326.31" y2="718.50" stroke="#000" stroke-width="1.15" />
<line x1="322.61" y1="718.50" x2="330.01" y2="718.50" stroke="#000" stroke-width="1.15" />
<line x1="356.58" y1="796.75" x2="356.58" y2="746.50" stroke="#000" stroke-width="1.15" />
<line x1="352.88" y1="746.50" x2="360.28" y2="746.50" stroke="#000" stroke-width="1.15" />
<line x1="386.86" y1="783.50" x2="386.86" y2="738.50" stroke="#000" stroke-width="1.15" />
<line x1="383.16" y1="738.50" x2="390.56" y2="738.50" stroke="#000" stroke-width="1.15" />
<line x1="417.13" y1="796.75" x2="417.13" y2="710.50" stroke="#000" stroke-width="1.15" />
<line x1="413.43" y1="710.50" x2="420.83" y2="710.50" stroke="#000" stroke-width="1.15" />
<line x1="417.13" y1="796.75" x2="417.13" y2="755.50" stroke="#000" stroke-width="1.15" />
<line x1="413.43" y1="755.50" x2="420.83" y2="755.50" stroke="#000" stroke-width="1.15" />
<line x1="447.41" y1="835.00" x2="447.41" y2="771.50" stroke="#000" stroke-width="1.15" />
<line x1="443.71" y1="771.50" x2="451.11" y2="771.50" stroke="#000" stroke-width="1.15" />
<line x1="447.41" y1="835.00" x2="447.41" y2="800.50" stroke="#000" stroke-width="1.15" />
<line x1="443.71" y1="800.50" x2="451.11" y2="800.50" stroke="#000" stroke-width="1.15" />
<line x1="477.69" y1="763.50" x2="477.69" y2="706.50" stroke="#000" stroke-width="1.15" />
<line x1="473.99" y1="706.50" x2="481.39" y2="706.50" stroke="#000" stroke-width="1.15" />
<line x1="507.96" y1="786.00" x2="507.96" y2="759.50" stroke="#000" stroke-width="1.15" />
<line x1="504.26" y1="759.50" x2="511.66" y2="759.50" stroke="#000" stroke-width="1.15" />
<line x1="538.24" y1="805.50" x2="538.24" y2="778.50" stroke="#000" stroke-width="1.15" />
<line x1="534.54" y1="778.50" x2="541.94" y2="778.50" stroke="#000" stroke-width="1.15" />
<line x1="568.51" y1="842.50" x2="568.51" y2="834.50" stroke="#000" stroke-width="1.15" />
<line x1="564.81" y1="834.50" x2="572.21" y2="834.50" stroke="#000" stroke-width="1.15" />
<polygon points="111.20,831.25 127.80,831.25 119.50,846.10" fill="#fff" stroke="#000" stroke-width="1.1"/>
<polygon points="116.20,820.75 132.80,820.75 124.50,835.60" fill="#fff" stroke="#000" stroke-width="1.1"/>
<polygon points="126.20,831.25 142.80,831.25 134.50,846.10" fill="#fff" stroke="#000" stroke-width="1.1"/>
<polygon points="131.20,849.55 147.80,849.55 139.50,864.40" fill="#fff" stroke="#000" stroke-width="1.1"/>
<polygon points="151.49,833.35 168.09,833.35 159.79,848.20" fill="#fff" stroke="#000" stroke-width="1.1"/>
<polygon points="166.63,805.45 183.23,805.45 174.93,820.30" fill="#fff" stroke="#000" stroke-width="1.1"/>
<polygon points="181.76,815.05 198.36,815.05 190.06,829.90" fill="#fff" stroke="#000" stroke-width="1.1"/>
<polygon points="196.90,806.55 213.50,806.55 205.20,821.40" fill="#fff" stroke="#000" stroke-width="1.1"/>
<polygon points="227.18,831.30 243.78,831.30 235.48,846.15" fill="#fff" stroke="#000" stroke-width="1.1"/>
<polygon points="257.45,803.05 274.05,803.05 265.75,817.90" fill="#fff" stroke="#000" stroke-width="1.1"/>
<polygon points="287.73,760.55 304.33,760.55 296.03,775.40" fill="#fff" stroke="#000" stroke-width="1.1"/>
<polygon points="318.01,761.05 334.61,761.05 326.31,775.90" fill="#fff" stroke="#000" stroke-width="1.1"/>
<polygon points="348.28,791.80 364.88,791.80 356.58,806.65" fill="#fff" stroke="#000" stroke-width="1.1"/>
<polygon points="378.56,778.55 395.16,778.55 386.86,793.40" fill="#fff" stroke="#000" stroke-width="1.1"/>
<polygon points="408.83,791.80 425.43,791.80 417.13,806.65" fill="#fff" stroke="#000" stroke-width="1.1"/>
<polygon points="439.11,830.05 455.71,830.05 447.41,844.90" fill="#fff" stroke="#000" stroke-width="1.1"/>
<polygon points="469.39,758.55 485.99,758.55 477.69,773.40" fill="#fff" stroke="#000" stroke-width="1.1"/>
<polygon points="499.66,781.05 516.26,781.05 507.96,795.90" fill="#fff" stroke="#000" stroke-width="1.1"/>
<polygon points="529.94,800.55 546.54,800.55 538.24,815.40" fill="#fff" stroke="#000" stroke-width="1.1"/>
<polygon points="560.21,837.55 576.81,837.55 568.51,852.40" fill="#fff" stroke="#000" stroke-width="1.1"/>
<text transform="translate(190.40,726.05) scale(0.95,1)" font-size="28.6" font-weight="bold" stroke="#000" stroke-width="0.4" text-anchor="middle">*</text>
<text transform="translate(205.30,735.45) scale(0.95,1)" font-size="28.6" font-weight="bold" stroke="#000" stroke-width="0.4" text-anchor="middle">*</text>
<text transform="translate(175.00,757.15) scale(0.95,1)" font-size="28.6" font-weight="bold" stroke="#000" stroke-width="0.4" text-anchor="middle">*</text>
<text transform="translate(263.25,727.75) scale(0.95,1)" font-size="28.6" font-weight="bold" stroke="#000" stroke-width="0.4" text-anchor="middle">*</text>
<text transform="translate(356.00,690.65) scale(0.95,1)" font-size="28.6" font-weight="bold" stroke="#000" stroke-width="0.4" text-anchor="middle">*</text>
<text transform="translate(355.20,781.45) scale(0.95,1)" font-size="28.6" font-weight="bold" stroke="#000" stroke-width="0.4" text-anchor="middle">*</text>
<text transform="translate(386.40,777.35) scale(0.95,1)" font-size="28.6" font-weight="bold" stroke="#000" stroke-width="0.4" text-anchor="middle">*</text>
<text transform="translate(356.10,827.75) scale(0.95,1)" font-size="28.6" font-weight="bold" stroke="#000" stroke-width="0.4" text-anchor="middle">*</text>
<text transform="translate(386.40,826.45) scale(0.95,1)" font-size="28.6" font-weight="bold" stroke="#000" stroke-width="0.4" text-anchor="middle">*</text>
<text x="235.00" y="737.10" font-size="19.6" font-weight="bold" stroke="#000" stroke-width="0.75" text-anchor="middle">#</text>
<text x="295.50" y="752.70" font-size="19.6" font-weight="bold" stroke="#000" stroke-width="0.75" text-anchor="middle">#</text>
<text x="326.00" y="754.20" font-size="19.6" font-weight="bold" stroke="#000" stroke-width="0.75" text-anchor="middle">#</text>
<text x="296.00" y="791.20" font-size="19.6" font-weight="bold" stroke="#000" stroke-width="0.75" text-anchor="middle">#</text>
<text x="326.00" y="811.70" font-size="19.6" font-weight="bold" stroke="#000" stroke-width="0.75" text-anchor="middle">#</text>
<text x="158.40" y="865.50" font-size="19.6" font-weight="bold" stroke="#000" stroke-width="0.75" text-anchor="middle">#</text>
<text x="173.50" y="835.50" font-size="19.6" font-weight="bold" stroke="#000" stroke-width="0.75" text-anchor="middle">#</text>
<text x="188.30" y="848.20" font-size="19.6" font-weight="bold" stroke="#000" stroke-width="0.75" text-anchor="middle">#</text>
<text x="205.00" y="840.30" font-size="19.6" font-weight="bold" stroke="#000" stroke-width="0.75" text-anchor="middle">#</text>
<text transform="translate(227.30,867.35) scale(0.95,1)" font-size="28.6" font-weight="bold" stroke="#000" stroke-width="0.4" text-anchor="middle">*</text>
<text transform="translate(241.30,867.35) scale(0.95,1)" font-size="28.6" font-weight="bold" stroke="#000" stroke-width="0.4" text-anchor="middle">*</text>
<text transform="translate(259.10,839.85) scale(0.95,1)" font-size="28.6" font-weight="bold" stroke="#000" stroke-width="0.4" text-anchor="middle">*</text>
<text transform="translate(273.10,839.85) scale(0.95,1)" font-size="28.6" font-weight="bold" stroke="#000" stroke-width="0.4" text-anchor="middle">*</text>
<text x="487.00" y="606.80" font-size="24" font-weight="bold" stroke="#000" stroke-width="0.45" text-anchor="start" >Cortisol</text>
<text x="108.80" y="639.90" font-size="17.4" font-weight="bold" stroke="#000" stroke-width="0.45" text-anchor="start" >Ast B</text>
<line x1="129.50" y1="714.00" x2="129.50" y2="660.00" stroke="#222" stroke-width="1.1" />
<polyline points="122.90,689.20 129.50,714.00 136.10,689.20" fill="none" stroke="#222" stroke-width="1.1"/>
<text transform="translate(27.9,823.6) rotate(-90)" font-size="22.8" font-weight="bold" stroke="#000" stroke-width="0.5">Cortisol (ug/dL)</text>
<text x="341.30" y="990.60" font-size="22.9" font-weight="bold" stroke="#000" stroke-width="0.45" text-anchor="middle" >Sampling Time (min)</text>
<line x1="144.45" y1="963.30" x2="144.45" y2="1010.50" stroke="#222" stroke-width="1.1" />
<polyline points="137.85,988.10 144.45,963.30 151.05,988.10" fill="none" stroke="#222" stroke-width="1.1"/>
<text x="142.80" y="1032.60" font-size="17.0" font-weight="bold" stroke="#000" stroke-width="0.45" text-anchor="middle" >CRH</text>
</svg>
</body>
</html>
